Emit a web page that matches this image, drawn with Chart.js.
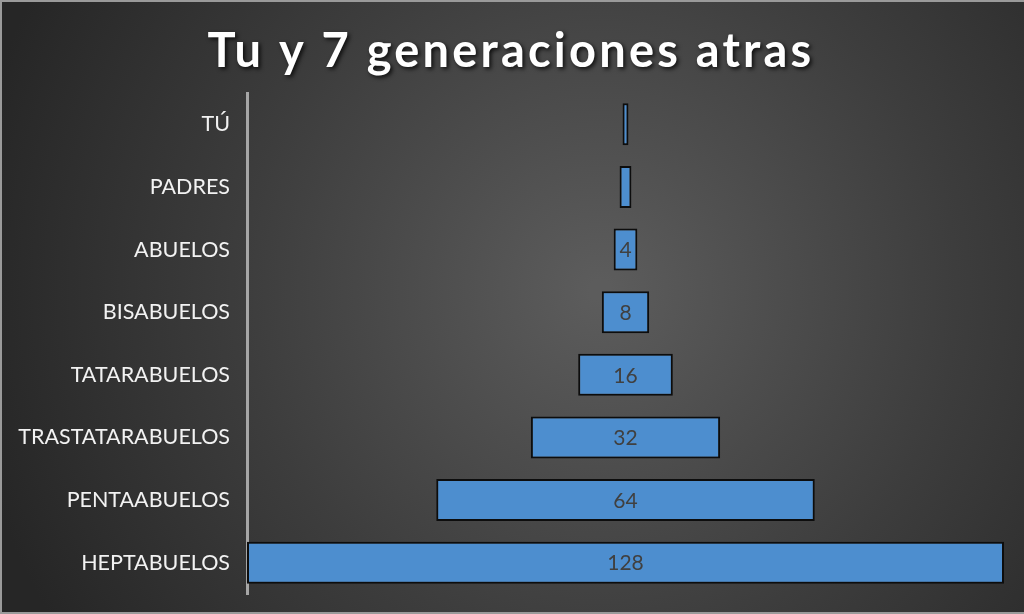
<!DOCTYPE html>
<html>
<head>
<meta charset="utf-8">
<script src="https://cdn.jsdelivr.net/npm/chart.js@4"></script>
<style>
    html, body { margin: 0; padding: 0; background: #2b2b2b; }
    #wrap { width: 1024px; height: 614px; }
</style>
</head>
<body>
<div id="wrap"><canvas id="chart" width="1024" height="614"></canvas></div>
<script>
/* Pirámide de generaciones: barras horizontales centradas (embudo) */

const TITLE = 'Tu y 7 generaciones atras';
const generaciones = ['TÚ', 'PADRES', 'ABUELOS', 'BISABUELOS', 'TATARABUELOS',
    'TRASTATARABUELOS', 'PENTAABUELOS', 'HEPTABUELOS'];
const personas = [1, 2, 4, 8, 16, 32, 64, 128];
const MAX_VAL = 128;

// hueco invisible a la izquierda para centrar cada barra
const relleno = personas.map((v) => (MAX_VAL - v) / 2);

const FONT = 'Lato, "Open Sans", sans-serif';

const fondo = {
    id: 'fondo',
    beforeDraw(c) {
        const { ctx, width, height } = c;
        ctx.save();
        const g = ctx.createRadialGradient(600, 290, 10, 600, 290, 640);
        g.addColorStop(0, '#5c5c5c');
        g.addColorStop(0.55, '#3d3d3d');
        g.addColorStop(1, '#262626');
        ctx.fillStyle = g;
        ctx.fillRect(0, 0, width, height);
        ctx.strokeStyle = '#9a9a9a';
        ctx.lineWidth = 2;
        ctx.beginPath();
        ctx.moveTo(0, 1); ctx.lineTo(width, 1);
        ctx.moveTo(1, 0); ctx.lineTo(1, height);
        ctx.moveTo(0, height - 1); ctx.lineTo(width, height - 1);
        ctx.stroke();
        ctx.restore();
    },
};

const titulo = {
    id: 'titulo',
    afterDraw(c) {
        const { ctx } = c;
        ctx.save();
        ctx.font = `bold 47px ${FONT}`;
        ctx.letterSpacing = '3.2px';
        ctx.textAlign = 'center';
        ctx.textBaseline = 'alphabetic';
        ctx.fillStyle = '#ffffff';
        ctx.shadowColor = 'rgba(0,0,0,0.8)';
        ctx.shadowOffsetX = 2;
        ctx.shadowOffsetY = 2;
        ctx.shadowBlur = 4;
        ctx.fillText(TITLE, 511, 67);
        ctx.restore();
    },
};

const etiquetas = {
    id: 'etiquetas',
    afterDatasetsDraw(c) {
        const { ctx } = c;
        const meta = c.getDatasetMeta(1);
        ctx.save();
        ctx.font = `21px ${FONT}`;
        ctx.fillStyle = '#404040';
        ctx.textAlign = 'center';
        ctx.textBaseline = 'middle';
        meta.data.forEach((bar, i) => {
            if (personas[i] < 4) return; // no cabe en las barras más finas
            ctx.fillText(String(personas[i]), (bar.x + bar.base) / 2, bar.y + 1);
        });
        ctx.restore();
    },
};

new Chart(document.getElementById('chart'), {
    type: 'bar',
    data: {
        labels: generaciones,
        datasets: [
            {
                data: relleno,
                backgroundColor: 'rgba(0,0,0,0)',
                borderWidth: 0,
            },
            {
                data: personas,
                backgroundColor: '#4d8ecf',
                borderColor: '#0d0d0d',
                borderWidth: 2,
                borderSkipped: false,
            },
        ],
    },
    options: {
        indexAxis: 'y',
        responsive: false,
        animation: false,
        layout: { padding: { top: 93, right: 20, bottom: 20, left: 0 } },
        datasets: { bar: { categoryPercentage: 1, barPercentage: 0.67 } },
        plugins: {
            legend: { display: false },
            tooltip: { enabled: false },
        },
        scales: {
            x: {
                stacked: true,
                display: false,
                min: 0,
                max: MAX_VAL,
            },
            y: {
                stacked: true,
                grid: { display: false, drawTicks: false },
                border: { color: '#a6a6a6', width: 3 },
                ticks: {
                    color: '#f2f2f2',
                    padding: 17,
                    font: { family: FONT, size: 21.5 },
                },
                afterFit(scale) {
                    scale.width = 247;
                    scale.paddingTop = 0;
                    scale.paddingBottom = 0;
                },
            },
        },
    },
    plugins: [fondo, titulo, etiquetas],
});
</script>
</body>
</html>
